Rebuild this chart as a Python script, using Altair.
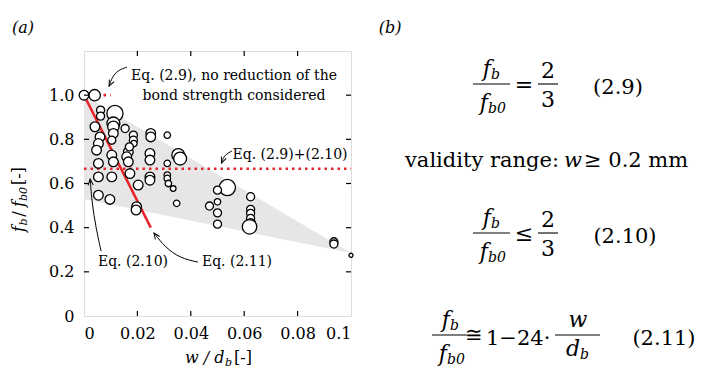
import altair as alt
import pandas as pd

# ---- test results: relative crack width w/d_b vs. bond strength ratio f_b/f_b0 ----
wd = [0.0, 0.004, 0.0062, 0.0062, 0.0116, 0.011, 0.0041, 0.011, 0.0154, 0.011,
      0.006, 0.0054, 0.0104, 0.0185, 0.0185, 0.0187, 0.025, 0.025, 0.0312, 0.0047,
      0.0054, 0.0104, 0.011, 0.0166, 0.017, 0.016, 0.0166, 0.0247, 0.0247, 0.0312,
      0.0353, 0.036, 0.0054, 0.0104, 0.0172, 0.0203, 0.0247, 0.0247, 0.0312, 0.0312,
      0.0316, 0.0334, 0.0054, 0.0097, 0.0197, 0.0195, 0.0347, 0.0537, 0.050, 0.050,
      0.047, 0.050, 0.050, 0.0624, 0.0624, 0.0624, 0.0624, 0.0624, 0.0620, 0.0936,
      0.0936, 0.1]
fb = [1.0, 1.0, 0.932, 0.905, 0.917, 0.872, 0.857, 0.857, 0.849, 0.827,
      0.811, 0.781, 0.796, 0.819, 0.796, 0.781, 0.827, 0.811, 0.819, 0.751,
      0.691, 0.729, 0.698, 0.743, 0.766, 0.721, 0.698, 0.736, 0.706, 0.691,
      0.729, 0.713, 0.630, 0.630, 0.645, 0.593, 0.630, 0.615, 0.638, 0.623,
      0.600, 0.577, 0.547, 0.528, 0.495, 0.480, 0.510, 0.582, 0.570, 0.517,
      0.498, 0.467, 0.416, 0.540, 0.483, 0.465, 0.442, 0.419, 0.404, 0.336,
      0.326, 0.275]
# bar diameter of each specimen (mm), shown as circle size
db = [12, 14, 10, 10, 20, 16, 12, 14, 10, 12,
      12, 12, 10, 10, 10, 8, 12, 12, 8, 12,
      12, 12, 12, 12, 10, 12, 12, 12, 12, 8,
      16, 16, 12, 12, 12, 12, 12, 12, 8, 8,
      8, 7, 12, 12, 12, 12, 8, 20, 10, 8,
      10, 10, 10, 10, 10, 10, 10, 12, 18, 10,
      10, 5]

# scatter band of the test results
band_x = [0.0, 0.1]
band_hi = [1.0, 0.285]
band_lo = [0.53, 0.285]

# Eq. (2.11): f_b/f_b0 = 1 - 24 w/d_b, drawn down to w/d_b = 0.025
eq211_x = [0.0, 0.025]
eq211_y = [1 - 24 * v for v in eq211_x]
# Eq. (2.9)/(2.10): f_b/f_b0 = 2/3 ; no reduction: f_b/f_b0 = 1
eq29_x = [0.0, 0.1]
eq29_y = [2 / 3, 2 / 3]
noref_x = [0.0, 0.01]
noref_y = [1.0, 1.0]

x_ticks = [0, 0.02, 0.04, 0.06, 0.08, 0.1]
y_ticks = [0, 0.2, 0.4, 0.6, 0.8, 1.0]

# ---- layout ----
X0, Y0 = 84, 51      # plot origin on the page
W, H = 267, 265      # plot area
FONT = "DejaVu Serif"
RED = "#e8262a"

xs = alt.Scale(domain=[0, 0.1], nice=False, zero=False)
ys = alt.Scale(domain=[0, 1.2], nice=False, zero=False)

pts = pd.DataFrame({"wd": wd, "fb": fb, "db": db})

axis_x = alt.Axis(values=x_ticks, ticks=False, domain=False, grid=False, title=None,
                  labelFont=FONT, labelFontSize=16, labelColor="black", labelPadding=9,
                  labelExpr="datum.value == 0 ? '0' : datum.value == 0.1 ? '0.1' : format(datum.value, '.2f')")
axis_y = alt.Axis(values=y_ticks, ticks=False, domain=False, grid=False, title=None,
                  labelFont=FONT, labelFontSize=16, labelColor="black", labelPadding=10,
                  labelExpr="datum.value == 0 ? '0' : format(datum.value, '.1f')")

band = alt.Chart(pd.DataFrame({"x": band_x, "hi": band_hi, "lo": band_lo})).mark_area(
    color="#e6e6e6").encode(
    x=alt.X("x:Q", scale=xs, axis=axis_x),
    y=alt.Y("hi:Q", scale=ys, axis=axis_y),
    y2="lo:Q")

dotted = alt.Chart(pd.DataFrame({"x": eq29_x + noref_x, "y": eq29_y + noref_y,
                                 "g": ["a", "a", "b", "b"]})).mark_line(
    color=RED, strokeWidth=2.6, strokeDash=[2.5, 4], strokeCap="butt").encode(
    x=alt.X("x:Q", scale=xs), y=alt.Y("y:Q", scale=ys), detail="g:N")

eqline = alt.Chart(pd.DataFrame({"x": eq211_x, "y": eq211_y})).mark_line(
    color=RED, strokeWidth=2.5).encode(
    x=alt.X("x:Q", scale=xs), y=alt.Y("y:Q", scale=ys))

circles = alt.Chart(pts).mark_point(
    shape="circle", filled=True, fill="white", stroke="black", strokeWidth=1.3,
    opacity=1).encode(
    x=alt.X("wd:Q", scale=xs),
    y=alt.Y("fb:Q", scale=ys),
    size=alt.Size("db:Q", scale=alt.Scale(type="pow", exponent=2, domain=[0, 20], range=[0, 260]),
                  legend=None))

# inward ticks on all four sides
inner_x = pd.DataFrame({"v": x_ticks[1:-1]})
inner_y = pd.DataFrame({"v": y_ticks[1:]})
tick_style = dict(color="black", strokeWidth=1.2)
ticks = [
    alt.Chart(inner_x).mark_rule(**tick_style).encode(
        x=alt.X("v:Q", scale=xs), y=alt.value(H), y2=alt.value(H - 5)),
    alt.Chart(inner_x).mark_rule(**tick_style).encode(
        x=alt.X("v:Q", scale=xs), y=alt.value(0), y2=alt.value(5)),
    alt.Chart(inner_y).mark_rule(**tick_style).encode(
        y=alt.Y("v:Q", scale=ys), x=alt.value(0), x2=alt.value(5)),
    alt.Chart(inner_y).mark_rule(**tick_style).encode(
        y=alt.Y("v:Q", scale=ys), x=alt.value(W), x2=alt.value(W - 5)),
]

# leader arrows for the annotations (data coordinates)
leaders = pd.DataFrame({
    "g": ["a"] * 4 + ["b"] * 4 + ["c"] * 4 + ["d"] * 4,
    "i": list(range(4)) * 4,
    "x": [0.0161, 0.0127, 0.0105, 0.0094,
          0.0554, 0.0532, 0.0521, 0.0515,
          0.0064, 0.0045, 0.0030, 0.0023,
          0.0427, 0.0360, 0.0303, 0.0262],
    "y": [1.127, 1.113, 1.081, 1.041,
          0.747, 0.733, 0.715, 0.692,
          0.294, 0.398, 0.511, 0.620,
          0.244, 0.262, 0.312, 0.376],
})
heads = pd.DataFrame({
    "x": [0.0094, 0.0515, 0.0023, 0.0262],
    "y": [1.041, 0.692, 0.620, 0.376],
    "a": [25, 22, 175, 145],
})
arrow_lines = alt.Chart(leaders).mark_line(color="black", strokeWidth=1,
                                           interpolate="basis").encode(
    x=alt.X("x:Q", scale=xs), y=alt.Y("y:Q", scale=ys),
    detail="g:N", order="i:Q")
arrow_heads = alt.Chart(heads).mark_point(
    shape="M-0.55,-1.3L0,0L0.55,-1.3", filled=False, stroke="black",
    strokeWidth=1, size=90, opacity=1).encode(
    x=alt.X("x:Q", scale=xs), y=alt.Y("y:Q", scale=ys),
    angle=alt.Angle("a:Q", scale=None))

one = pd.DataFrame({"k": [0]})


def label(s, px, py, size=14, italic=False, align="center", baseline="alphabetic", angle=0):
    kw = dict(text=s, font=FONT, fontSize=size, align=align, baseline=baseline, color="black")
    if italic:
        kw["fontStyle"] = "italic"
    if angle:
        kw["angle"] = angle
    return alt.Chart(one).mark_text(**kw).encode(x=alt.value(px - X0), y=alt.value(py - Y0))


def bar(x1, x2, py):
    return alt.Chart(one).mark_rule(color="black", strokeWidth=1.1).encode(
        x=alt.value(x1 - X0), x2=alt.value(x2 - X0), y=alt.value(py - Y0))


def ratio(cx, x1, x2, y0):
    """f_b over f_b0 as a stacked fraction"""
    return [
        label("f", cx, y0 - 8, 22, True, "right"),
        label("b", cx, y0 - 5, 14, True, "left"),
        bar(x1, x2, y0),
        label("f", cx - 3, y0 + 26, 22, True, "right"),
        label("b0", cx - 3, y0 + 29, 14, True, "left"),
    ]


texts = [
    label("(a)", 23, 33, 16, True),
    label("(b)", 390, 33, 16, True),
    label("Eq. (2.9), no reduction of the", 234, 80),
    label("bond strength considered", 234, 100),
    label("Eq. (2.9)+(2.10)", 290, 159),
    label("Eq. (2.10)", 133, 266),
    label("Eq. (2.11)", 237, 266),
    # y-axis title, rotated
    label("f", 24, 229, 16, True, "center", "alphabetic", 270),
    label("b", 27, 222, 11, True, "center", "alphabetic", 270),
    label("/", 24, 214, 16, False, "center", "alphabetic", 270),
    label("f", 24, 204, 16, True, "center", "alphabetic", 270),
    label("b0", 27, 194, 11, True, "center", "alphabetic", 270),
    label("[-]", 24, 176, 16, False, "center", "alphabetic", 270),
    # x-axis title
    label("w / d", 185, 363, 16, True, "left"),
    label("b", 225, 366, 11, True, "left"),
    label("[-]", 234, 363, 16, False, "left"),
]

# right-hand panel: the design equations
eqs = []
y29, y210, y211 = 84, 233, 335
eqs += ratio(491, 473, 510, y29)
eqs += [label("=", 524, y29 + 1, 22, False, "center", "middle"),
        label("2", 548, y29 - 6, 22), bar(538, 558, y29), label("3", 548, y29 + 23, 22),
        label("(2.9)", 618, y29 + 10, 21)]
eqs += [label("validity range:", 405, 167, 21, False, "left"),
        label("w", 564, 167, 21, True, "left"),
        label("≥ 0.2 mm", 584, 167, 21, False, "left")]
eqs += ratio(491, 473, 510, y210)
eqs += [label("≤", 524, y210 + 1, 22, False, "center", "middle"),
        label("2", 548, y210 - 6, 22), bar(538, 558, y210), label("3", 548, y210 + 23, 22),
        label("(2.10)", 625, y210 + 10, 21)]
eqs += ratio(450, 432, 467, y211)
eqs += [label("≅", 474, y211 + 1, 21, False, "center", "middle"),
        label("1−24·", 486, y211 + 10, 21, False, "left"),
        label("w", 578, y211 - 8, 22, True),
        bar(555, 600, y211),
        label("d", 580, y211 + 21, 22, True, "right"),
        label("b", 580, y211 + 24, 14, True, "left"),
        label("(2.11)", 664, y211 + 10, 21)]

chart = alt.layer(band, dotted, eqline, circles, *ticks, arrow_lines, arrow_heads,
                  *texts, *eqs).properties(
    width=W, height=H,
    padding={"left": X0, "top": Y0, "right": 708 - X0 - W, "bottom": 370 - Y0 - H},
    autosize="none",
).configure_view(stroke="black", strokeWidth=1.2).configure(background="white")

chart.save("out.html", embed_options={"renderer": "svg", "actions": False})
